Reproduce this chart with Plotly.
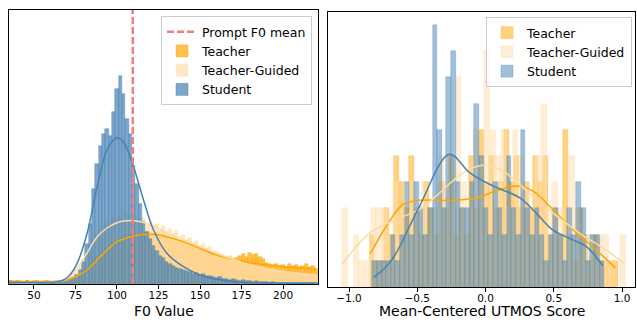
import plotly.graph_objects as go

# ---------------- Left panel: F0 histogram (bin width 2 Hz, starting at 35 Hz) ----------------
f0_bin_start = 35
f0_bin_width = 2
f0_teacher = [3, 3, 2, 3, 2, 3, 2, 3, 2, 2, 3, 2, 2, 2, 3, 3, 3, 4, 5, 7, 9, 11, 14, 17, 20, 24, 28, 31, 34, 36,
              39, 41, 43, 45, 46, 48, 47, 50, 49, 52, 50, 53, 51, 49, 52, 48, 50, 47, 46, 45, 44, 43, 42, 40, 39,
              38, 37, 35, 34, 33, 32, 30, 29, 28, 27, 26, 27, 25, 26, 28, 30, 27, 31, 29, 30, 27, 25, 21, 20, 19,
              20, 18, 19, 17, 20, 18, 19, 17, 18, 20, 17, 18, 15]
f0_teacher_guided = [2, 1, 2, 1, 2, 1, 2, 1, 2, 1, 2, 1, 2, 2, 2, 3, 4, 5, 7, 10, 14, 19, 25, 31, 38, 44, 50, 54,
                     58, 62, 60, 66, 63, 68, 65, 70, 66, 64, 68, 63, 66, 60, 62, 57, 60, 55, 58, 52, 55, 50, 53,
                     47, 49, 44, 46, 41, 43, 38, 40, 35, 37, 32, 33, 30, 29, 27, 28, 25, 24, 23, 22, 21, 20, 19,
                     18, 17, 17, 16, 15, 15, 14, 13, 13, 12, 12, 11, 11, 10, 10, 10, 9, 9, 9]
f0_student = [3, 2, 3, 2, 1, 3, 2, 2, 3, 1, 2, 3, 2, 1, 2, 2, 3, 3, 5, 6, 9, 14, 22, 40, 60, 95, 120, 138, 150,
              155, 148, 172, 195, 208, 190, 165, 150, 118, 100, 80, 62, 52, 45, 38, 33, 28, 26, 22, 20, 18, 16,
              15, 14, 13, 12, 10, 11, 9, 10, 8, 8, 7, 6, 7, 5, 5, 4, 5, 4, 3, 4, 3, 3, 2, 3, 2, 2, 2, 1, 2, 1,
              1, 1, 1, 1, 1, 1, 1, 1, 1, 1, 1, 1]

# KDE curves (same vertical units as the bars)
kde_f0_x = [35, 50, 65, 70, 76, 82, 88, 94, 100, 104, 110, 116, 122, 130, 140, 150, 160, 170, 180, 190, 200, 210, 220]
kde_f0_student = [1.5, 1.5, 2.5, 6.3, 20.7, 50.7, 97, 134, 146.3, 142, 117, 84, 54, 30.7, 17.3, 9, 4.7, 2.3, 1.5, 1.2, 1, 1, 1]
kde_f0_teacher = [2.5, 2.5, 3, 4, 8, 14, 24, 34, 42.3, 45, 48, 49.5, 49.7, 47.3, 42.3, 35.7, 29, 24.7, 21.3, 19, 17.3, 16, 14.7]
kde_f0_teacher_guided = [1.3, 1.3, 2.5, 5.7, 16, 31, 47, 56, 61.3, 63, 63.5, 61.5, 58, 50.7, 44, 37.3, 30.7, 24.7, 19, 14.7, 12.3, 10.5, 9]

prompt_f0_mean = 109.5

# ---------------- Right panel: UTMOS histograms (50 bins each) ----------------
ut_teacher_start, ut_teacher_width = -0.85, 0.0364
ut_teacher = [2, 1, 1, 3, 2, 5, 4, 3, 5, 3, 2, 4, 3, 2, 4, 3, 5, 2, 3, 2, 5, 3, 6, 4, 5, 3, 4, 6, 4, 5,
              3, 4, 3, 5, 4, 5, 2, 3, 2, 6, 2, 1, 3, 2, 1, 2, 1, 1, 1, 1]
ut_tg_start, ut_tg_width = -1.05, 0.0416
ut_teacher_guided = [3, 0, 2, 1, 1, 3, 3, 3, 2, 4, 3, 2, 4, 3, 4, 2, 3, 5, 4, 3, 8, 4, 3, 6, 4, 9, 6, 5, 6, 3,
                     6, 5, 4, 3, 5, 7, 3, 4, 3, 2, 5, 3, 2, 2, 1, 2, 2, 1, 0, 2]
ut_student_start, ut_student_width = -0.83, 0.034
ut_student = [1, 1, 1, 1, 2, 1, 2, 4, 2, 4, 3, 2, 3, 10, 6, 3, 8, 9, 4, 3, 3, 4, 7, 5, 3, 2, 4, 3, 2, 5,
              3, 2, 6, 3, 2, 3, 2, 1, 2, 3, 2, 1, 3, 2, 4, 3, 1, 2, 2, 1]

kde_ut_student_x = [-0.82, -0.727, -0.654, -0.483, -0.264, -0.117, 0.054, 0.249, 0.37, 0.49, 0.64, 0.737, 0.858]
kde_ut_student_y = [0.36, 0.78, 1.3, 3.09, 5.07, 4.37, 3.86, 3.41, 2.83, 2.19, 1.8, 1.55, 0.82]
kde_ut_teacher_x = [-0.844, -0.727, -0.605, -0.483, -0.24, -0.068, 0.078, 0.225, 0.346, 0.493, 0.64, 0.81, 0.952]
kde_ut_teacher_y = [1.27, 2.32, 3.15, 3.31, 3.31, 3.4, 3.67, 3.86, 3.67, 2.96, 2.19, 1.42, 0.72]
kde_ut_tg_x = [-1.049, -0.849, -0.654, -0.483, -0.361, -0.24, -0.117, -0.007, 0.127, 0.249, 0.371, 0.493, 0.688, 0.859, 1.017]
kde_ut_tg_y = [0.88, 2.06, 2.58, 2.96, 3.47, 4.05, 4.5, 4.65, 4.43, 3.92, 3.35, 2.83, 2.06, 1.49, 0.91]

ut_ticks = [-1.0, -0.5, 0.0, 0.5, 1.0]
ut_tick_text = ["\u22121.0", "\u22120.5", "0.0", "0.5", "1.0"]
f0_ticks = [50, 75, 100, 125, 150, 175, 200]
left_title = "F0 Value"
right_title = "Mean-Centered UTMOS Score"


def centers(start, width, counts):
    return [start + width * (i + 0.5) for i in range(len(counts))]


ORANGE = (255, 165, 0)
NAVAJO = (255, 222, 173)
STEEL = (70, 130, 180)


def rgba(c, a):
    return f"rgba({c[0]},{c[1]},{c[2]},{a})"


fig = go.Figure()

# Left panel bars
left_series = [("Teacher", f0_teacher, ORANGE, 2), ("Teacher-Guided", f0_teacher_guided, NAVAJO, 3),
               ("Student", f0_student, STEEL, 4)]
for name, vals, col, rank in left_series:
    fig.add_trace(go.Bar(
        x=centers(f0_bin_start, f0_bin_width, vals), y=vals, width=f0_bin_width,
        name=name, marker=dict(color=rgba(col, 0.7), line=dict(color=rgba(col, 0.9), width=0.5)),
        xaxis="x", yaxis="y", legend="legend", legendrank=rank))

for xs, ys, col in [(kde_f0_x, kde_f0_teacher, "#FFA500"), (kde_f0_x, kde_f0_teacher_guided, "#FCDBAA"),
                    (kde_f0_x, kde_f0_student, "#4682B4")]:
    fig.add_trace(go.Scatter(x=xs, y=ys, mode="lines", line=dict(color=col, width=1.5, shape="spline"),
                             showlegend=False, xaxis="x", yaxis="y", hoverinfo="skip"))

fig.add_trace(go.Scatter(x=[prompt_f0_mean, prompt_f0_mean], y=[0, 274], mode="lines",
                         line=dict(color="#F08080", width=2.5, dash="7px,3px"),
                         name="Prompt F0 mean", xaxis="x", yaxis="y", legend="legend", legendrank=1))

# Right panel bars
right_series = [("Teacher", ut_teacher_start, ut_teacher_width, ut_teacher, ORANGE),
                ("Teacher-Guided", ut_tg_start, ut_tg_width, ut_teacher_guided, NAVAJO),
                ("Student", ut_student_start, ut_student_width, ut_student, STEEL)]
for name, st, w, vals, col in right_series:
    fig.add_trace(go.Bar(
        x=centers(st, w, vals), y=vals, width=w, name=name,
        marker=dict(color=rgba(col, 0.5), line=dict(color=rgba(col, 0.6), width=0.5)),
        xaxis="x2", yaxis="y2", legend="legend2"))

for xs, ys, col in [(kde_ut_teacher_x, kde_ut_teacher_y, "#FFA500"), (kde_ut_tg_x, kde_ut_tg_y, "#FCDBAA"),
                    (kde_ut_student_x, kde_ut_student_y, "#4682B4")]:
    fig.add_trace(go.Scatter(x=xs, y=ys, mode="lines", line=dict(color=col, width=1.5, shape="spline"),
                             showlegend=False, xaxis="x2", yaxis="y2", hoverinfo="skip"))

W, H = 637, 320
axis_common = dict(showline=True, linecolor="black", linewidth=1.2, mirror=True, showgrid=False, zeroline=False)
fig.update_layout(
    width=W, height=H, autosize=False, margin=dict(l=0, r=0, t=0, b=0),
    paper_bgcolor="white", plot_bgcolor="white", barmode="overlay", bargap=0,
    font=dict(family="DejaVu Sans", color="black"),
    xaxis=dict(domain=[9 / W, 318 / W], range=[35, 221], tickvals=f0_ticks, ticks="outside", ticklen=3.5,
               tickcolor="black", tickfont=dict(size=10.5), ticklabelstandoff=-2, anchor="y", automargin=False,
               **axis_common),
    yaxis=dict(domain=[1 - 284 / H, 1 - 10 / H], range=[0, 274], showticklabels=False, ticks="", anchor="x",
               **axis_common),
    xaxis2=dict(domain=[328 / W, 635 / W], range=[-1.154, 1.095], tickvals=ut_ticks, ticktext=ut_tick_text,
                ticks="outside", ticklen=3.5, tickcolor="black", tickfont=dict(size=10.5), ticklabelstandoff=-2,
                anchor="y2", automargin=False, **axis_common),
    yaxis2=dict(domain=[1 - 287 / H, 1 - 12 / H], range=[0, 10.5], showticklabels=False, ticks="", anchor="x2",
                **axis_common),
    legend=dict(x=312 / W, y=1 - 16 / H, xanchor="right", yanchor="top", bgcolor="rgba(255,255,255,0.8)",
                bordercolor="#CCCCCC", borderwidth=1, font=dict(size=12.5), traceorder="normal",
                itemwidth=30, tracegroupgap=0),
    legend2=dict(x=632 / W, y=1 - 17 / H, xanchor="right", yanchor="top", bgcolor="rgba(255,255,255,0.8)",
                 bordercolor="#CCCCCC", borderwidth=1, font=dict(size=12.5), traceorder="normal",
                 itemwidth=30, tracegroupgap=0),
    annotations=[
        dict(text=left_title, xref="x domain", yref="paper", x=0.5, y=0, xanchor="center", yanchor="bottom",
             showarrow=False, font=dict(size=14), borderpad=0),
        dict(text=right_title, xref="x2 domain", yref="paper", x=0.5, y=0, xanchor="center", yanchor="bottom",
             showarrow=False, font=dict(size=14), borderpad=0),
    ],
)

fig.write_html("out.html", config={"displayModeBar": False},
               post_script="document.body.style.margin='0';document.body.style.overflow='hidden';")
